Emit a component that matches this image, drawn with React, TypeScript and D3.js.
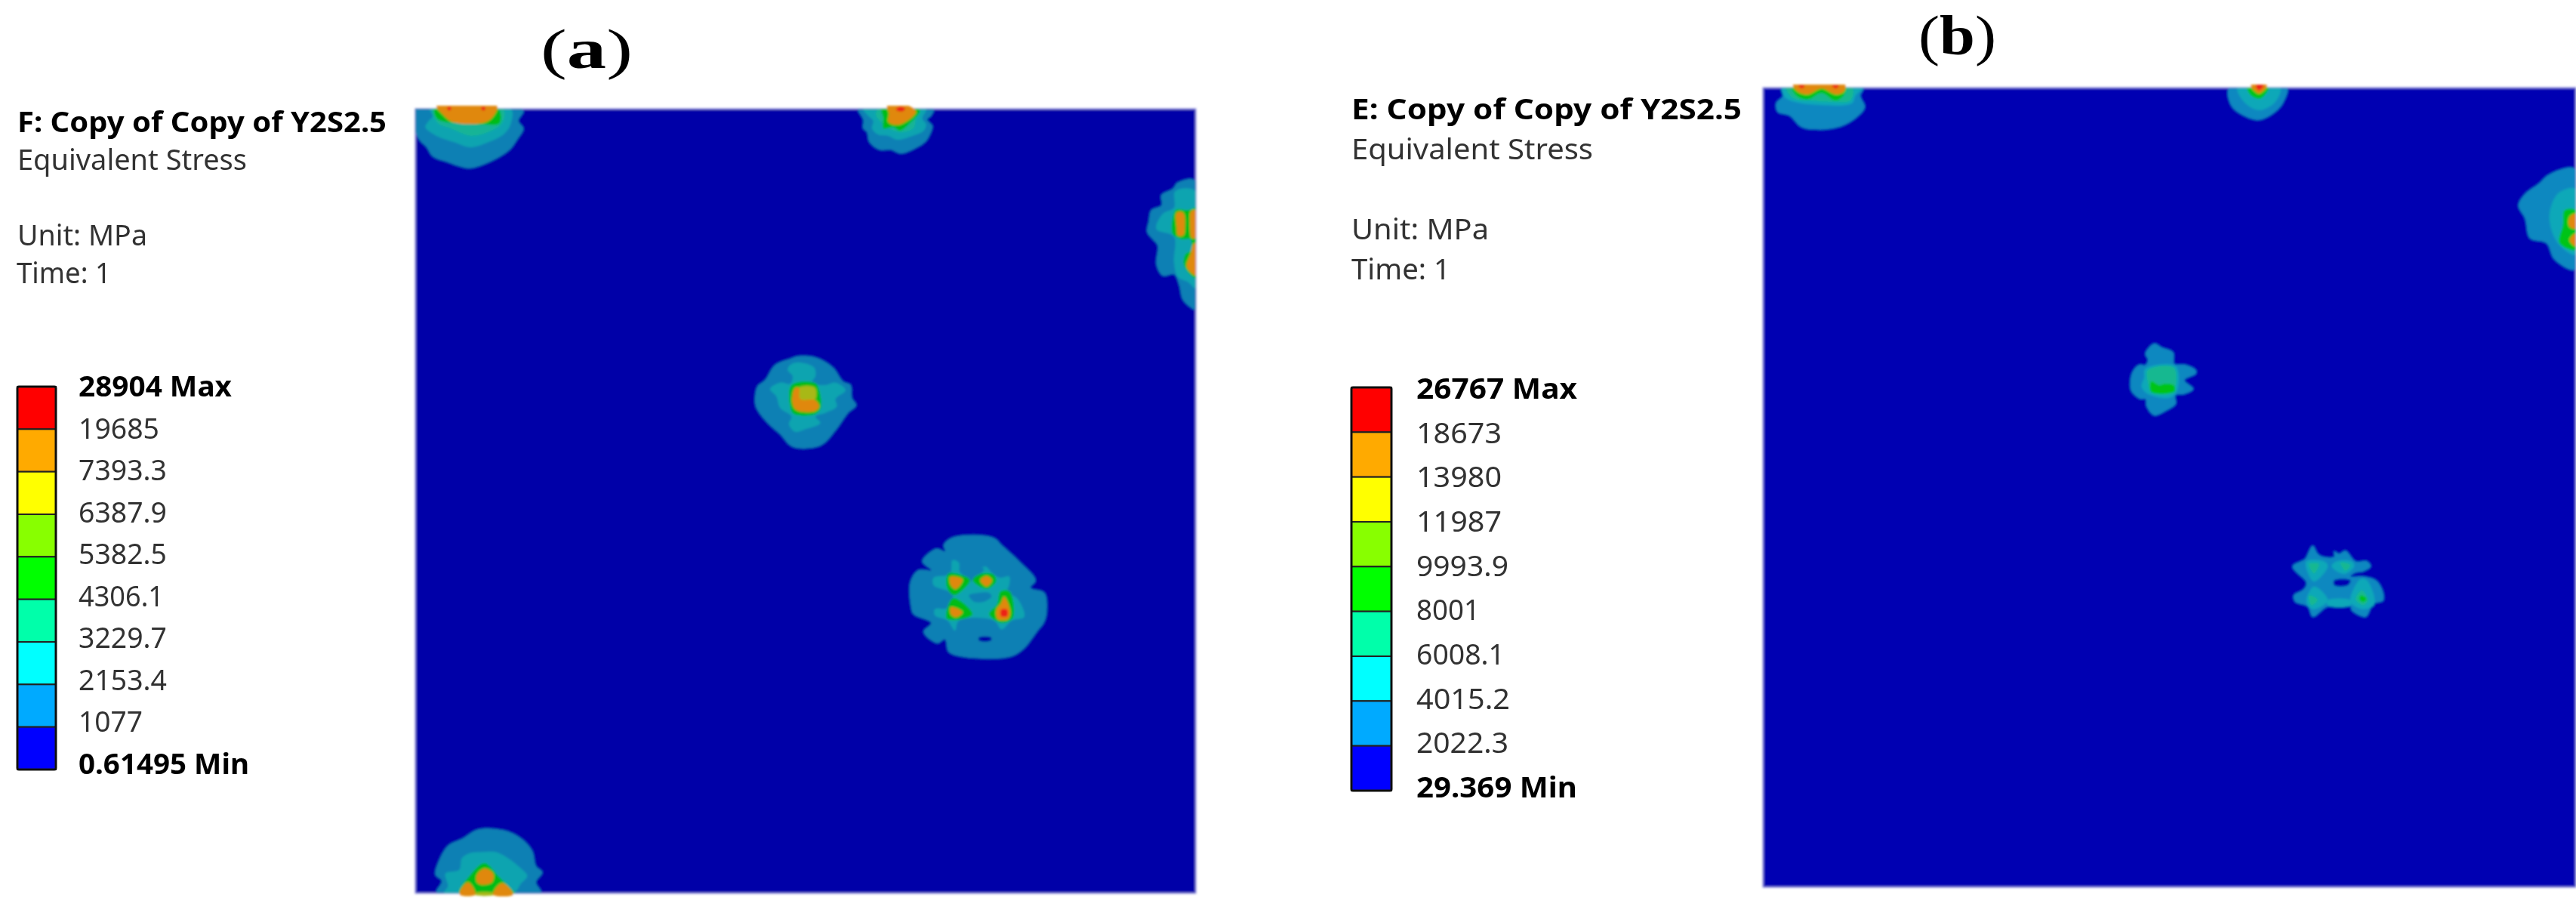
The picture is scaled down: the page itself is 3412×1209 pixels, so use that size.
import React from "react";
import * as d3 from "d3";

type Pt = [number, number];
type Band = [number, Pt[]];
type Spot = { crop: Pt; zoom: Pt; bands: Band[] };

// stress bands as they look on the plate (index = band number used by the traces below)
const bandsA = ["#0000a8", "#0a80b4", "#0aa4b0", "#12b496", "#00bc14", "#a8b818", "#e08808", "#ec2418"];
const bandsB = ["#0000b2", "#0a88c0", "#0aa8b8", "#14b890", "#00c414", "#a8b818", "#e08808", "#ec2418"];
const legendColors = ["#ff0000", "#ffaa00", "#ffff00", "#88ff00", "#00ff00", "#00ffaa", "#00ffff", "#00aaff", "#0000ff"];

const labelsA = ["28904 Max", "19685", "7393.3", "6387.9", "5382.5", "4306.1", "3229.7", "2153.4", "1077", "0.61495 Min"];
const labelsB = ["26767 Max", "18673", "13980", "11987", "9993.9", "8001", "6008.1", "4015.2", "2022.3", "29.369 Min"];
const labelWidthsA = [203, 107, 117, 117, 117, 113, 117, 117, 85, 226];
const labelWidthsB = [213, 113, 113, 113, 122, 84, 117, 124, 122, 213];

const spotsA: Spot[] = [
  { crop: [530, 120], zoom: [3, 3], bands: [
    [1, [[60,72],[490,78],[470,120],[490,150],[465,195],[440,230],[400,260],[340,290],[280,308],[240,302],[190,285],[130,262],[105,225],[80,200],[62,170]]],
    [2, [[118,72],[440,72],[440,130],[415,170],[350,205],[280,225],[215,205],[145,180],[100,145],[110,125],[130,100]]],
    [3, [[130,72],[410,72],[405,130],[350,165],[280,180],[200,150],[150,130]]],
    [4, [[138,72],[390,72],[395,130],[340,135],[250,130],[180,125],[150,115],[135,90]]],
    [6, [[145,62],[385,62],[375,95],[340,125],[210,125],[170,95]]],
    [7, [[188,66],[202,66],[200,78],[190,78]]],
    [7, [[323,66],[338,66],[336,78],[326,78]]],
  ] },
  { crop: [1120, 120], zoom: [3, 3], bands: [
    [1, [[50,72],[350,72],[340,100],[325,115],[345,140],[335,175],[320,200],[285,225],[220,250],[180,235],[135,235],[95,205],[85,165],[70,150],[70,115]]],
    [2, [[70,72],[320,72],[305,110],[320,135],[310,160],[265,180],[205,195],[170,180],[130,175],[105,150],[110,120],[90,100]]],
    [3, [[130,72],[295,72],[280,115],[270,150],[220,165],[170,150],[140,125],[120,95]]],
    [4, [[145,72],[295,78],[255,130],[215,160],[190,145],[150,150],[150,110]]],
    [6, [[165,62],[255,62],[280,85],[215,135],[170,125],[172,90]]],
    [7, [[200,75],[210,66],[228,66],[237,72],[228,82],[210,82]]],
  ] },
  { crop: [1490, 200], zoom: [3, 3], bands: [
    [1, [[282,118],[210,125],[190,150],[145,175],[145,215],[105,235],[95,280],[88,320],[110,350],[130,375],[125,450],[150,495],[195,490],[215,530],[230,590],[260,620],[282,630]]],
    [2, [[282,160],[200,160],[195,225],[150,250],[125,310],[195,340],[195,440],[210,500],[250,520],[282,545]]],
    [4, [[282,225],[262,232],[245,235],[205,232],[190,265],[190,330],[225,350],[260,350],[265,365],[262,395],[240,410],[235,455],[282,505]]],
    [6, [[205,245],[232,245],[238,310],[232,335],[210,335],[205,300]]],
    [6, [[282,235],[262,240],[258,290],[265,345],[282,345]]],
    [6, [[282,365],[272,370],[262,405],[245,460],[282,495]]],
  ] },
  { crop: [980, 450], zoom: [3, 3], bands: [
    [1, [[230,65],[300,70],[370,110],[410,165],[440,180],[445,230],[462,260],[430,290],[380,360],[320,420],[210,425],[160,375],[110,330],[65,270],[60,235],[70,185],[100,160],[140,100],[200,75]]],
    [2, [[200,100],[230,90],[295,110],[300,145],[285,170],[340,180],[380,170],[420,200],[380,235],[385,265],[340,290],[300,305],[320,330],[260,355],[220,365],[195,335],[205,305],[160,270],[145,225],[120,195],[160,170],[200,175],[210,145],[190,120]]],
    [4, [[205,180],[300,172],[315,200],[322,270],[300,295],[215,295],[200,265]]],
    [5, [[235,190],[298,190],[298,238],[240,238]]],
    [6, [[218,192],[235,190],[240,235],[300,240],[315,265],[300,283],[225,280],[208,250]]],
  ] },
  { crop: [1190, 690], zoom: [3, 3], bands: [
    [1, [[215,65],[375,65],[415,100],[480,160],[545,235],[525,265],[580,285],[590,350],[580,400],[550,440],[495,510],[440,540],[260,540],[200,520],[185,470],[155,485],[100,440],[130,405],[60,370],[50,340],[48,240],[80,195],[130,195],[95,160],[150,110],[185,120],[180,95]]],
    [0, [[320,462],[368,462],[368,475],[320,475]]],
    [2, [[215,155],[240,165],[245,205],[290,215],[345,180],[375,210],[405,225],[440,220],[440,255],[430,285],[470,305],[500,380],[450,395],[410,430],[380,395],[240,395],[225,435],[195,395],[145,375],[145,350],[195,345],[215,290],[140,255],[140,225],[205,210]]],
    [1, [[280,295],[320,285],[360,285],[370,300],[340,320],[300,320]]],
    [1, [[260,190],[340,190],[285,240],[258,235]]],
    [4, [[200,208],[245,212],[285,235],[222,295],[195,270],[190,230]]],
    [4, [[295,235],[325,210],[378,212],[388,240],[350,270]]],
    [4, [[220,305],[295,370],[250,390],[192,388],[196,340]]],
    [4, [[405,280],[442,280],[455,385],[410,405],[360,370],[392,330]]],
    [6, [[205,222],[255,232],[228,270],[208,255]]],
    [6, [[325,235],[350,218],[372,235],[350,260]]],
    [6, [[208,342],[255,362],[228,382],[208,370]]],
    [6, [[420,300],[445,360],[435,390],[395,390],[388,355],[408,325]]],
    [7, [[408,352],[432,352],[432,378],[408,378]]],
  ] },
  { crop: [550, 1040], zoom: [3, 3], bands: [
    [1, [[85,428],[105,380],[80,355],[90,310],[130,240],[190,210],[250,175],[350,178],[420,210],[465,260],[480,320],[505,345],[480,385],[500,428]]],
    [2, [[115,428],[130,400],[120,350],[175,335],[185,290],[215,270],[270,265],[320,265],[370,290],[420,330],[445,360],[420,390],[390,428]]],
    [4, [[175,428],[215,360],[275,308],[330,360],[345,375],[390,420],[395,428]]],
    [5, [[238,428],[312,428],[312,435],[238,435]]],
    [6, [[245,355],[275,330],[310,350],[305,385],[265,395],[245,385]]],
    [6, [[178,435],[180,415],[210,385],[235,415],[238,435]]],
    [6, [[310,435],[315,415],[345,388],[380,415],[388,435]]],
  ] },
];

const shrink = 1568 / 3412;

const spotsB: Spot[] = [
  { crop: [2270, 90], zoom: [2.24, 3], bands: [
    [1, [[200,75],[445,75],[435,110],[448,155],[420,200],[370,235],[315,245],[260,235],[225,190],[190,175],[185,140],[205,110]]],
    [2, [[205,75],[442,75],[420,110],[410,140],[290,145],[220,125],[205,105]]],
    [3, [[215,75],[410,75],[405,130],[350,135],[290,130],[235,120]]],
    [4, [[232,72],[392,72],[385,110],[360,130],[320,100],[280,125],[245,110]]],
    [6, [[235,68],[390,68],[385,95],[360,105],[320,82],[280,105],[250,95]]],
    [7, [[250,70],[270,70],[262,82]]],
    [7, [[350,70],[372,70],[362,82]]],
  ] },
  { crop: [0, 0], zoom: [shrink, shrink], bands: [
    [1, [[1357,53],[1392,53],[1390,62],[1385,68],[1375,73],[1365,70],[1358,64]]],
    [2, [[1362,53],[1388,53],[1385,62],[1375,67],[1366,62]]],
    [4, [[1368,53],[1381,53],[1376,60],[1370,58]]],
    [6, [[1370,52],[1380,52],[1375,57]]],
    [7, [[1373,52],[1378,52],[1375,55]]],
  ] },
  { crop: [0, 0], zoom: [shrink, shrink], bands: [
    [1, [[1568,103],[1552,106],[1545,112],[1537,118],[1533,125],[1537,133],[1540,145],[1550,148],[1555,158],[1568,164]]],
    [2, [[1568,115],[1558,117],[1553,125],[1552,135],[1557,148],[1568,155]]],
    [4, [[1568,128],[1561,128],[1560,137],[1558,148],[1568,152]]],
    [6, [[1568,130],[1564,132],[1564,138],[1568,139]]],
    [6, [[1568,142],[1564,146],[1568,150]]],
  ] },
  { crop: [2840, 440], zoom: [3, 3], bands: [
    [1, [[40,45],[70,60],[115,80],[120,125],[165,130],[205,150],[205,165],[160,190],[195,225],[160,245],[125,250],[125,285],[90,310],[40,330],[10,295],[5,265],[-15,265],[-50,235],[-55,195],[-45,155],[-20,130],[5,130],[15,110],[5,85]]],
    [2, [[5,145],[125,135],[130,235],[100,260],[15,245],[-10,215],[0,180]]],
    [3, [[15,150],[118,140],[120,230],[95,245],[30,238],[15,200]]],
    [4, [[28,195],[60,210],[80,205],[118,210],[122,235],[28,238]]],
  ] },
  { crop: [3020, 700], zoom: [3, 3], bands: [
    [1, [[130,68],[150,100],[165,110],[215,112],[215,90],[235,100],[260,88],[300,130],[345,130],[360,150],[330,170],[300,175],[280,190],[330,190],[380,205],[405,240],[410,285],[370,300],[340,350],[285,325],[280,310],[190,310],[130,350],[110,310],[60,290],[55,265],[95,240],[105,215],[50,150],[100,120],[115,90]]],
    [0, [[215,205],[280,205],[270,225],[215,225]]],
    [2, [[105,130],[175,130],[190,150],[135,210],[110,175]]],
    [2, [[225,130],[285,130],[295,150],[255,180],[205,150]]],
    [2, [[135,230],[190,285],[130,320],[105,290]]],
    [2, [[320,200],[345,205],[375,300],[330,320],[280,290]]],
    [2, [[190,285],[280,285],[280,305],[190,305]]],
    [3, [[115,140],[155,140],[135,178]]],
    [3, [[240,135],[280,145],[260,168]]],
    [3, [[115,265],[150,282],[125,305]]],
    [3, [[325,245],[350,285],[330,305],[300,280]]],
    [4, [[322,265],[345,280],[330,292],[315,280]]],
  ] },
];

const Plate = ({ id, box, spots, bands }: { id: string; box: number[]; spots: Spot[]; bands: string[] }) => {
  const [left, top, right, bottom] = box;
  const x = d3.scaleLinear().domain([0, right - left]).range([left, right]);
  const y = d3.scaleLinear().domain([0, bottom - top]).range([top, bottom]);
  const path = d3.line<Pt>().x((d) => x(d[0])).y((d) => y(d[1])).curve(d3.curveCatmullRomClosed.alpha(0.5));
  return (
    <g filter="url(#soft)">
      <clipPath id={`${id}-low`}>
        <rect x={left} y={top} width={right - left} height={bottom - top} />
      </clipPath>
      {/* the hottest bands bleed a few pixels past the plate edge in the picture */}
      <clipPath id={`${id}-high`}>
        <rect x={left} y={top - 4} width={right - left} height={bottom - top + 8} />
      </clipPath>
      <rect x={left} y={top} width={right - left} height={bottom - top} fill={bands[0]} stroke="#a8a8e8" strokeWidth={1.5} />
      {spots.map((s, i) =>
        s.bands.map(([band, pts], j) => (
          <path
            key={`${i}-${j}`}
            clipPath={`url(#${id}-${band >= 5 ? "high" : "low"})`}
            fill={bands[band]}
            d={path(pts.map(([px, py]): Pt => [s.crop[0] + px / s.zoom[0] - left, s.crop[1] + py / s.zoom[1] - top])) || ""}
          />
        ))
      )}
    </g>
  );
};

type LegendProps = {
  labels: string[];
  widths: number[];
  barX: number[];
  barY: number[];
  labelX: number;
  baselines: number[];
  fontSize: number;
};

const Legend = ({ labels, widths, barX, barY, labelX, baselines, fontSize }: LegendProps) => {
  const seg = d3.scaleBand<string>().domain(legendColors).range(barY);
  const base = d3.scalePoint<string>().domain(labels).range(baselines);
  return (
    <g filter="url(#textSoft)">
      {legendColors.map((c) => (
        <rect key={c} x={barX[0]} width={barX[1] - barX[0]} y={seg(c)} height={seg.bandwidth()} fill={c} stroke="#222" strokeWidth={2} />
      ))}
      <rect x={barX[0]} y={barY[0]} width={barX[1] - barX[0]} height={barY[1] - barY[0]} rx={2} fill="none" stroke="#111" strokeWidth={3} />
      {labels.map((l, i) => {
        const bold = i === 0 || i === labels.length - 1;
        return (
          <text
            key={l}
            x={labelX}
            y={base(l)}
            fontSize={fontSize}
            fontWeight={bold ? 700 : 400}
            fill={bold ? "#000" : "#333"}
            textLength={widths[i]}
            lengthAdjust="spacingAndGlyphs"
          >
            {l}
          </text>
        );
      })}
    </g>
  );
};

const Header = ({ rows, fontSize }: { rows: [string, number, number, number, boolean][]; fontSize: number }) => (
  <g filter="url(#textSoft)">
    {rows.map(([t, tx, ty, w, bold]) => (
      <text key={t} x={tx} y={ty} fontSize={fontSize} fontWeight={bold ? 700 : 400} fill={bold ? "#000" : "#333"} textLength={w} lengthAdjust="spacingAndGlyphs">
        {t}
      </text>
    ))}
  </g>
);

const PanelTag = ({ x, y, width, letter }: { x: number; y: number; width: number; letter: string }) => (
  <text x={x} y={y} fontFamily="'Liberation Serif', serif" fontSize={74} fill="#000" textLength={width} lengthAdjust="spacingAndGlyphs">
    (<tspan fontWeight={700}>{letter}</tspan>)
  </text>
);

const App = () => (
  <svg
    width={3412}
    height={1209}
    style={{ position: "absolute", left: 0, top: 0, background: "#fff", fontFamily: "'Noto Sans', sans-serif" }}
  >
    <defs>
      <filter id="soft" x="-2%" y="-2%" width="104%" height="104%">
        <feGaussianBlur stdDeviation={1.6} />
      </filter>
      <filter id="textSoft" x="-2%" y="-2%" width="104%" height="104%">
        <feGaussianBlur stdDeviation={0.6} />
      </filter>
    </defs>

    <PanelTag x={716} y={90} width={122} letter="a" />
    <PanelTag x={2541} y={72} width={103} letter="b" />

    <Header
      fontSize={38}
      rows={[
        ["F: Copy of Copy of Y2S2.5", 23, 175, 489, true],
        ["Equivalent Stress", 23, 225, 304, false],
        ["Unit: MPa", 23, 325, 172, false],
        ["Time: 1", 22, 375, 125, false],
      ]}
    />
    <Legend labels={labelsA} widths={labelWidthsA} barX={[23, 74]} barY={[512, 1019]} labelX={104} baselines={[525, 1025]} fontSize={38} />
    <Plate id="a" box={[550, 144, 1584, 1183]} spots={spotsA} bands={bandsA} />

    <Header
      fontSize={38}
      rows={[
        ["E: Copy of Copy of Y2S2.5", 1790, 158, 517, true],
        ["Equivalent Stress", 1790, 211, 320, false],
        ["Unit: MPa", 1790, 317, 182, false],
        ["Time: 1", 1790, 370, 131, false],
      ]}
    />
    <Legend labels={labelsB} widths={labelWidthsB} barX={[1790, 1843]} barY={[513, 1047]} labelX={1876} baselines={[528, 1056]} fontSize={38} />
    <Plate id="b" box={[2335, 116, 3412, 1175]} spots={spotsB} bands={bandsB} />
  </svg>
);

export default App;
